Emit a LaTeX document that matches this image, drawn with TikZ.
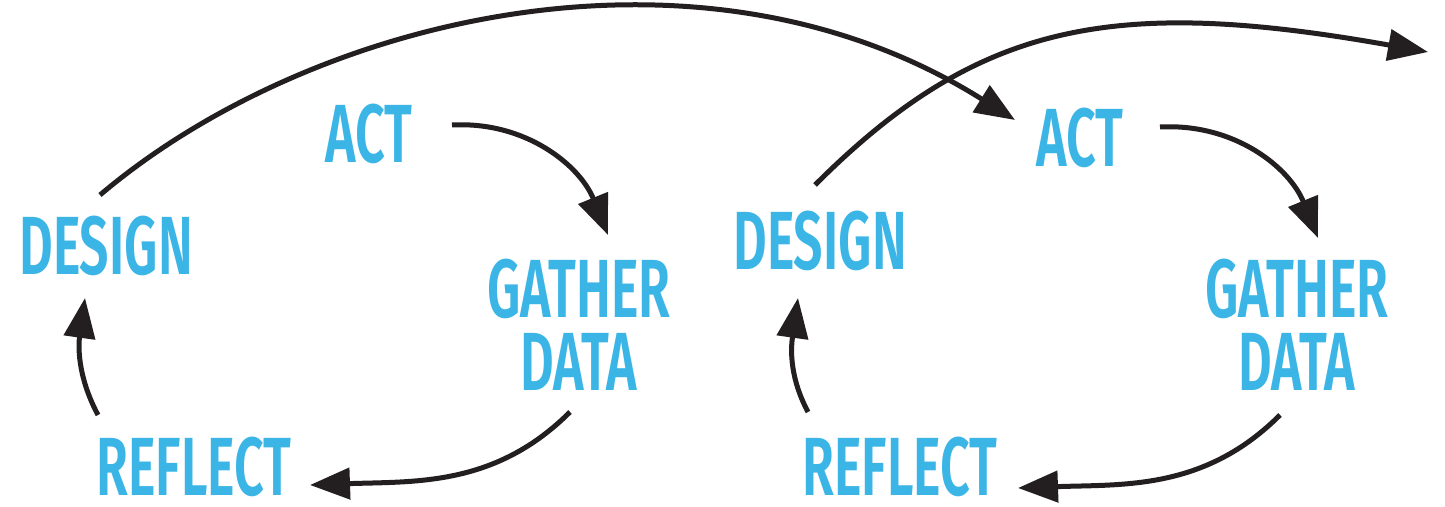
\documentclass[tikz,border=0pt]{standalone}
\usepackage{fontspec}
\setmainfont{Fira Sans}[FakeStretch=0.63, BoldFont={Fira Sans SemiBold}]
\usetikzlibrary{arrows.meta}
\definecolor{stageblue}{RGB}{59,181,230}
\definecolor{arrowblack}{RGB}{35,31,32}
\tikzstyle{stage} = [text=stageblue, font=\bfseries\fontsize{47}{41.5}\selectfont, inner sep=0pt, align=center]
\tikzstyle{flow} = [line width=0.1cm, draw=arrowblack, -{Triangle[length=0.8cm, width=0.62cm]}]

\begin{document}
\begin{tikzpicture}[x=0.02cm, y=0.02cm]
		\useasboundingbox (0,0) rectangle (1445,507);
		
		% first cycle
		\node (design1) [stage] at (106,261) {DESIGN};
		\node (act1) [stage] at (369,373) {ACT};
		\node (gd1) [stage] at (579,182) {GATHER\\DATA};
		\node (reflect1) [stage] at (194,40) {REFLECT};
		
		% second cycle
		\node (design2) [stage] at (820,266) {DESIGN};
		\node (act2) [stage] at (1080,369) {ACT};
		\node (gd2) [stage] at (1297,182) {GATHER\\DATA};
		\node (reflect2) [stage] at (900,40) {REFLECT};
		
		\coordinate (next) at (1428,455);
		
		\draw [flow] ([shift={(83,9)}]act1.center) to[out=3, in=112] ([shift={(29,90)}]gd1.center);
		\draw [flow] ([shift={(-9,-87)}]gd1.center) to[out=225, in=2] ([shift={(116,-18)}]reflect1.center);
		\draw [flow] ([shift={(-96,52)}]reflect1.center) to[out=118, in=262] ([shift={(-21,-52)}]design1.center);
		
		\draw [flow] ([shift={(80,11)}]act2.center) to[out=3, in=112] ([shift={(21,87)}]gd2.center);
		\draw [flow] ([shift={(-17,-90)}]gd2.center) to[out=225, in=2] ([shift={(118,-21)}]reflect2.center);
		\draw [flow] ([shift={(-92,55)}]reflect2.center) to[out=118, in=262] ([shift={(-22,-57)}]design2.center);
		
		% links from one cycle to the next
		\draw [flow] ([shift={(-6,51)}]design1.center) .. controls (310,490) and (700,585) .. ([shift={(-65,18)}]act2.center);
		\draw [flow] ([shift={(-5,56)}]design2.center) .. controls (978,485) and (1113,511) .. (next);
		
\end{tikzpicture}
\end{document}
